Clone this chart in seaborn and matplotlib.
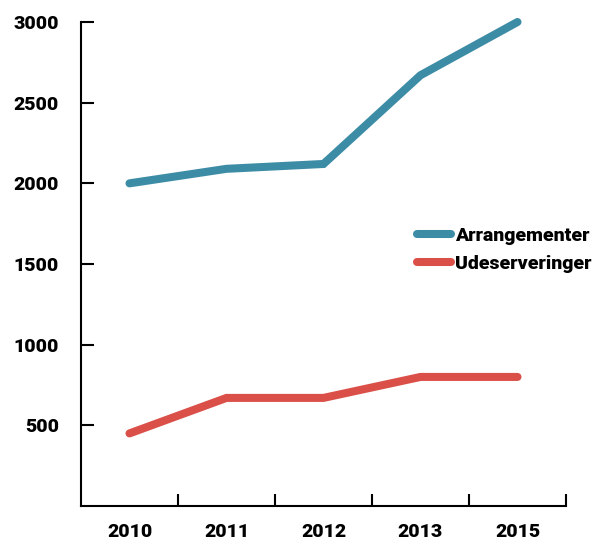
import numpy as np
import pandas as pd
import matplotlib
matplotlib.use("Agg")
import matplotlib.pyplot as plt
import seaborn as sns
from matplotlib.ticker import FixedLocator

years = ["2010", "2011", "2012", "2013", "2015"]
arrangementer = [2000, 2090, 2120, 2670, 3000]
udeserveringer = [450, 670, 670, 800, 800]
series_names = ["Arrangementer", "Udeserveringer"]
colors = ["#3D8CA6", "#DA5049"]

df = pd.DataFrame({
    "pos": list(range(len(years))) * 2,
    "value": arrangementer + udeserveringer,
    "serie": [series_names[0]] * len(years) + [series_names[1]] * len(years),
})

sns.set_style("white")
plt.rcParams["font.family"] = ["Roboto", "DejaVu Sans"]
plt.rcParams["text.color"] = "black"

fig = plt.figure(figsize=(5.94, 5.41), dpi=100)
ax = fig.add_axes([81 / 594, 35 / 541, 485 / 594, 484 / 541])

sns.lineplot(data=df, x="pos", y="value", hue="serie", palette=colors,
             linewidth=5.8, ax=ax, legend=True)
for ln in ax.lines:
    ln.set_solid_capstyle("round")
    ln.set_solid_joinstyle("miter")
    ln.set_clip_on(False)

ax.set_xlim(-0.5, len(years) - 0.5)
ax.set_ylim(0, 3000)
ax.set_xlabel("")
ax.set_ylabel("")

fs = 14
ax.set_xticks(range(len(years)))
ax.set_xticklabels(years, fontsize=fs, fontweight="black")
ax.xaxis.set_minor_locator(FixedLocator(np.arange(0.5, len(years), 1.0)))
ax.tick_params(axis="x", which="major", bottom=True, length=0, pad=12, labelcolor="black")
ax.tick_params(axis="x", which="minor", bottom=True, direction="in", length=9, width=1.5, color="black")

ax.set_yticks([500, 1000, 1500, 2000, 2500, 3000])
ax.set_yticklabels(["500", "1000", "1500", "2000", "2500", "3000"], fontsize=fs, fontweight="black")
ax.tick_params(axis="y", left=True, direction="in", length=9, width=1.5, color="black",
               labelcolor="black", pad=16)

for s in ["top", "right"]:
    ax.spines[s].set_visible(False)
for s in ["left", "bottom"]:
    ax.spines[s].set_color("black")
    ax.spines[s].set_linewidth(1.5)

ax.legend_.remove()
handles = ax.lines[:2]
leg = fig.legend(handles, series_names, loc="center left",
                 bbox_to_anchor=(417 / 594, (541 - 250) / 541),
                 frameon=False, borderpad=0, borderaxespad=0,
                 handlelength=1.75, handletextpad=0.2, labelspacing=0.5,
                 prop={"size": fs, "weight": "black"}, labelcolor="black")

fig.savefig("out.png", dpi=100)
